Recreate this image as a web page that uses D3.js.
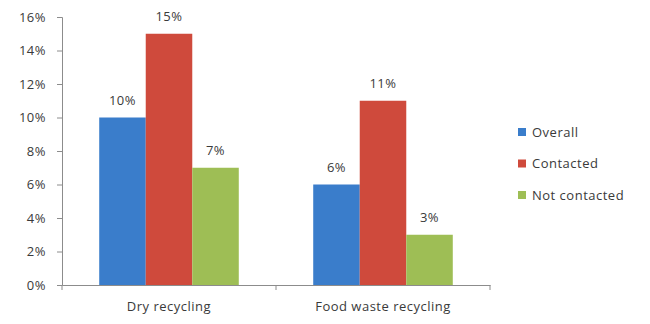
<!DOCTYPE html>
<html><head><meta charset="utf-8">
<script src="https://cdn.jsdelivr.net/npm/d3@7"></script>
<style>body{margin:0;background:#fff}svg{display:block}text{font-family:"Open Sans",Lato,sans-serif;fill:#3a3a3a;letter-spacing:0.5px}</style>
</head><body><svg id="c" width="650" height="324"></svg>
<script>
const categories = ["Dry recycling", "Food waste recycling"];
const seriesNames = ["Overall", "Contacted", "Not contacted"];
const overall = [10, 6];
const contacted = [15, 11];
const notContacted = [7, 3];
const yTicks = [0, 2, 4, 6, 8, 10, 12, 14, 16];
const colors = ["#3a7dcb", "#cf4a3c", "#9ebe55"];
const seriesValues = [overall, contacted, notContacted];

(function () {
const svg = d3.select("#c");
const mLeft = 62, mRight = 490, mTop = 17, mBottom = 285;
const x0 = d3.scaleBand().domain(categories).range([mLeft, mRight]).padding(0);
const x1 = d3.scaleBand().domain(seriesNames).range([0, x0.bandwidth()]).paddingInner(0).paddingOuter(0.8);
const y = d3.scaleLinear().domain([0, 16]).range([mBottom, mTop]);

// y axis
const ya = svg.append("g").attr("transform", `translate(${mLeft},0)`)
  .call(d3.axisLeft(y).tickValues(yTicks).tickSize(5).tickPadding(11).tickFormat(d => d + "%"));
ya.selectAll("path,line").attr("stroke", "#8c8c8c");
ya.selectAll("text").style("font-size", "13px").style("fill", "#3a3a3a").attr("font-family", null);

// x axis
const xa = svg.append("g").attr("transform", `translate(0,${mBottom})`)
  .call(d3.axisBottom(x0).tickSize(0).tickPadding(17));
xa.selectAll("path,line").attr("stroke", "#8c8c8c");
xa.selectAll("text").style("font-size", "13px").style("fill", "#3a3a3a").attr("font-family", null);
const xBounds = [mLeft, mLeft + x0.step(), mRight];
svg.append("g").selectAll("line").data(xBounds).join("line")
  .attr("x1", d => d).attr("x2", d => d).attr("y1", mBottom).attr("y2", mBottom + 5)
  .attr("stroke", "#8c8c8c");

// bars
categories.forEach((cat, ci) => {
  seriesNames.forEach((s, si) => {
    const v = seriesValues[si][ci];
    const bx = x0(cat) + x1(s);
    svg.append("rect").attr("x", bx).attr("y", y(v)).attr("width", x1.bandwidth()).attr("height", y(0) - y(v))
      .attr("fill", colors[si]);
    svg.append("text").attr("x", bx + x1.bandwidth() / 2).attr("y", y(v) - 13)
      .attr("text-anchor", "middle").style("font-size", "13px").text(v + "%");
  });
});

// legend
const lg = svg.append("g").attr("transform", "translate(518,132)");
seriesNames.forEach((s, i) => {
  const g = lg.append("g").attr("transform", `translate(0,${i * 31.5})`);
  g.append("rect").attr("x", 0).attr("y", -4).attr("width", 8).attr("height", 8).attr("fill", colors[i]);
  g.append("text").attr("x", 14).attr("y", 0).attr("dy", "0.35em").style("font-size", "13px").text(s);
});
})();
</script></body></html>
